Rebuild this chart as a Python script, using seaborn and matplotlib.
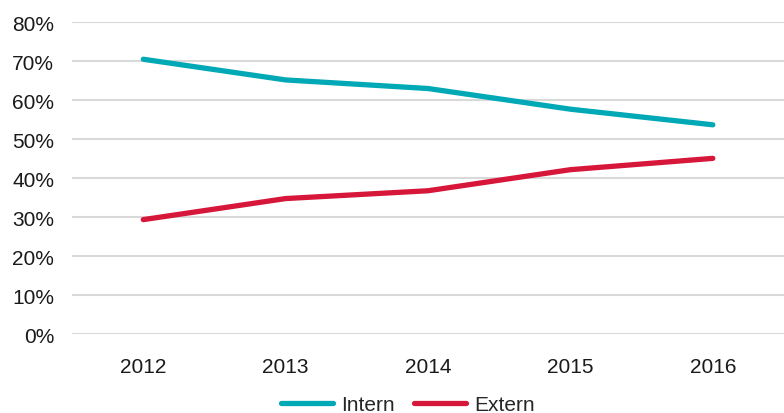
import pandas as pd
import matplotlib.pyplot as plt
import seaborn as sns

# data (share in %)
years = ["2012", "2013", "2014", "2015", "2016"]
intern = [70.5, 65.2, 63.0, 57.7, 53.7]
extern = [29.4, 34.8, 36.8, 42.2, 45.1]
y_ticks = [0, 10, 20, 30, 40, 50, 60, 70, 80]

colors = {"Intern": "#00A9B5", "Extern": "#D6173A"}


def main():
    df = pd.DataFrame({
        "year": years * 2,
        "share": intern + extern,
        "series": ["Intern"] * len(years) + ["Extern"] * len(years),
    })

    sns.set_theme(style="white")
    plt.rcParams["font.family"] = ["Liberation Sans", "DejaVu Sans"]

    fig = plt.figure(figsize=(7.84, 4.14), dpi=100)
    ax = fig.add_axes([0.092, 0.19, 0.908, 0.754])

    sns.lineplot(data=df, x="year", y="share", hue="series", palette=colors,
                 linewidth=3.8, ax=ax, legend=False, sort=False)
    for line in ax.lines:
        line.set_solid_capstyle("round")
        line.set_solid_joinstyle("round")

    ax.set_xlim(-0.5, len(years) - 0.5)
    ax.set_ylim(0, 80)
    ax.set_yticks(y_ticks)
    ax.set_yticklabels([f"{t}%" for t in y_ticks])
    ax.yaxis.grid(True, color="#D9D9D9", linewidth=1.5)
    ax.set_axisbelow(True)
    ax.set_xlabel("")
    ax.set_ylabel("")
    for s in ax.spines.values():
        s.set_visible(False)
    ax.tick_params(axis="both", length=0, labelsize=15, colors="#1a1a1a")
    ax.tick_params(axis="y", pad=13)
    ax.tick_params(axis="x", pad=16)

    handles = [plt.Line2D([0], [0], color=colors[k], linewidth=3.8,
                          solid_capstyle="round") for k in ["Intern", "Extern"]]
    fig.legend(handles, ["Intern", "Extern"], loc="center",
               bbox_to_anchor=(0.52, 0.02), ncol=2, frameon=False,
               fontsize=15, handlelength=2.5, handletextpad=0.4,
               columnspacing=0.9)

    fig.savefig("out.png", dpi=100)
    plt.close(fig)


if __name__ == "__main__":
    main()
